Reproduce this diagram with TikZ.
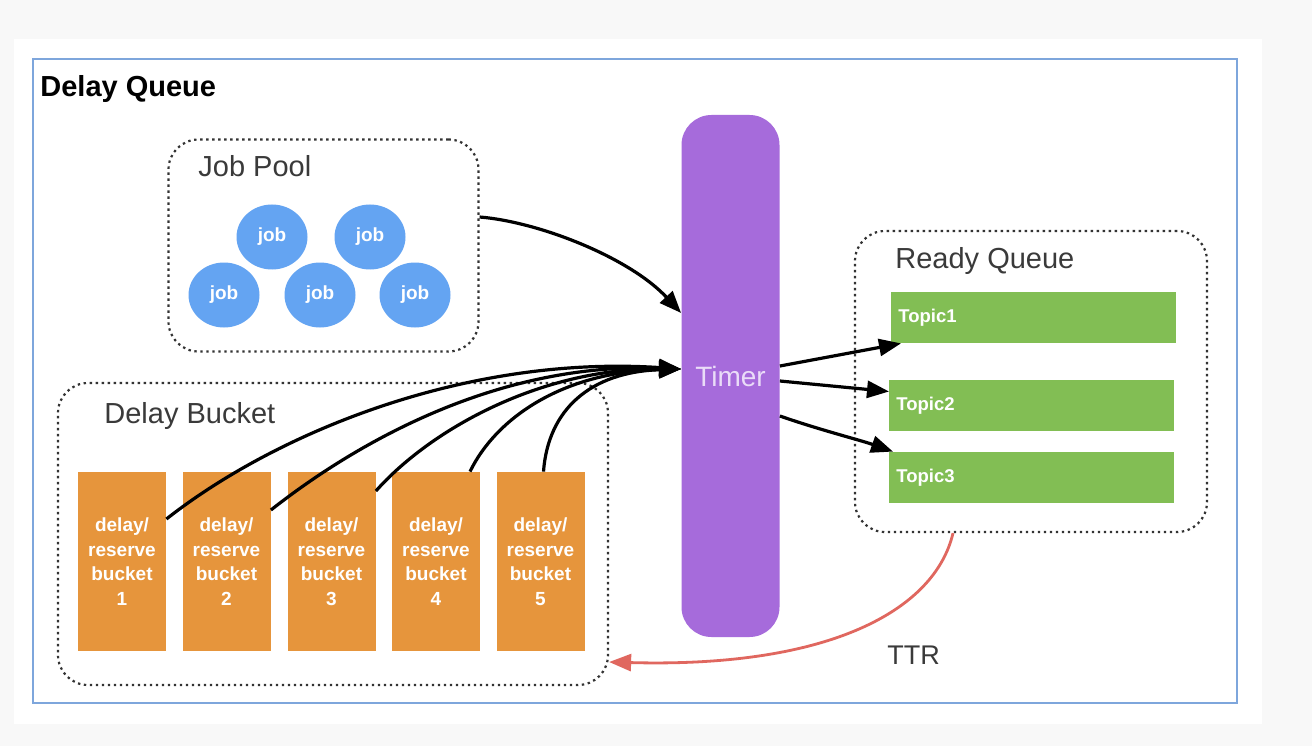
\documentclass[tikz,border=0pt]{standalone}
\usepackage{fontspec}
\setmainfont{Liberation Sans}
\usetikzlibrary{arrows.meta,shapes.geometric,positioning}

\definecolor{pagegray}{HTML}{F8F8F8}
\definecolor{frameblue}{HTML}{7EA6DC}
\definecolor{jobblue}{HTML}{64A4F2}
\definecolor{timerpurple}{HTML}{A66BDB}
\definecolor{timertext}{HTML}{EADCF8}
\definecolor{topicgreen}{HTML}{82BE54}
\definecolor{bucketorange}{HTML}{E6953C}
\definecolor{labelgray}{HTML}{3A3A3A}
\definecolor{ttrred}{HTML}{E0675F}

\begin{document}
\begin{tikzpicture}[x=1pt, y=-1pt, thick, >={Triangle[length=22pt,width=17pt]},
  panel/.style={draw=black!80, line width=2.2pt, dash pattern=on 2.4pt off 3.6pt, rounded corners=30pt, inner sep=0pt},
  paneltitle/.style={anchor=base west, inner sep=0pt, text=labelgray, font=\fontsize{29}{32}\selectfont},
  job/.style={ellipse, fill=jobblue, minimum width=71pt, minimum height=65pt, inner sep=0pt, text=white, font=\bfseries\fontsize{19}{22}\selectfont},
  bucket/.style={fill=bucketorange, minimum width=88pt, minimum height=179pt, inner sep=0pt, align=center, text=white, font=\bfseries\fontsize{19}{24.5}\selectfont},
  topic/.style={anchor=west, fill=topicgreen, minimum height=51pt, inner xsep=7pt, inner ysep=0pt, text width=271pt, align=left, text=white, font=\bfseries\fontsize{18.5}{21}\selectfont},
  flow/.style={->, line width=3.2pt}]

% page and frame
\useasboundingbox[fill=pagegray] (0,0) rectangle (1312,746);
\fill[white] (14,39) rectangle (1262,724);
\draw[frameblue, line width=2pt] (33,59) rectangle (1237,703);
\node (title) at (40,97)[anchor=base west, inner sep=0pt, font=\bfseries\fontsize{29}{32}\selectfont]{Delay Queue};

% groups
\draw
  node (pool) at (323.5,245.5)[panel, minimum width=310pt, minimum height=212pt]{}
  node (delay) at (333,534)[panel, minimum width=550pt, minimum height=302pt]{}
  node (ready) at (1031,381.5)[panel, minimum width=352pt, minimum height=301pt]{};
\node (poollabel) at (198,177)[paneltitle]{Job Pool};
\node (delaylabel) at (104,423)[paneltitle]{Delay Bucket};
\node (readylabel) at (895,269)[paneltitle]{Ready Queue};

% job pool
\draw
  node (j1) at (272,237)[job]{job}
  node (j2) at (370,237)[job]{job}
  node (j3) at (224,295)[job]{job}
  node (j4) at (320,295)[job]{job}
  node (j5) at (415,295)[job]{job};

% delay buckets
\draw
  node (b1) at (122,561.5)[bucket]{delay/\\reserve\\bucket\\1}
  node (b2) at (226.5,561.5)[bucket]{delay/\\reserve\\bucket\\2}
  node (b3) at (331.5,561.5)[bucket]{delay/\\reserve\\bucket\\3}
  node (b4) at (436,561.5)[bucket]{delay/\\reserve\\bucket\\4}
  node (b5) at (540.5,561.5)[bucket]{delay/\\reserve\\bucket\\5};

% timer
\node (timer) at (730.5,376)[fill=timerpurple, rounded corners=30pt, minimum width=98pt, minimum height=522pt, inner sep=0pt, text=timertext, font=\fontsize{28}{32}\selectfont]{Timer};
\coordinate (tin) at ([yshift=7pt]timer.west);

% ready queue
\draw
  node (t1) at (891,317.5)[topic]{Topic1}
  node (t2) at (889,405.5)[topic]{Topic2}
  node (t3) at (889,477.5)[topic]{Topic3};

% connectors
\draw[flow] ([yshift=28.5pt]pool.east) .. controls (540,222) and (630,258) .. ([yshift=63pt]timer.west);
\draw[flow] ([yshift=42.5pt]b1.east) .. controls (280,430) and (470,355) .. (tin);
\draw[flow] ([yshift=51.5pt]b2.east) .. controls (360,440) and (500,362) .. (tin);
\draw[flow] ([yshift=70.5pt]b3.east) .. controls (430,430) and (540,368) .. (tin);
\draw[flow] ([xshift=34pt]b4.north) .. controls (495,420) and (560,372) .. (tin);
\draw[flow] ([xshift=3pt]b5.north) .. controls (548,410) and (590,372) .. (tin);

\draw[flow] ([yshift=10pt]timer.east) -- ([xshift=10pt]t1.south west);
\draw[flow] ([yshift=-5pt]timer.east) -- ([yshift=14pt]t2.west);
\draw[flow] ([yshift=-40pt]timer.east) .. controls (820,430) and (860,440) .. ([xshift=4pt]t3.north west);

\draw[->, ttrred, line width=2.8pt] ([xshift=-78pt]ready.south) .. controls (935,610) and (830,668) .. ([yshift=-128pt]delay.east);
\node (ttr) at (887,664)[anchor=base west, inner sep=0pt, text=labelgray, font=\fontsize{27}{30}\selectfont]{TTR};
\end{tikzpicture}
\end{document}
